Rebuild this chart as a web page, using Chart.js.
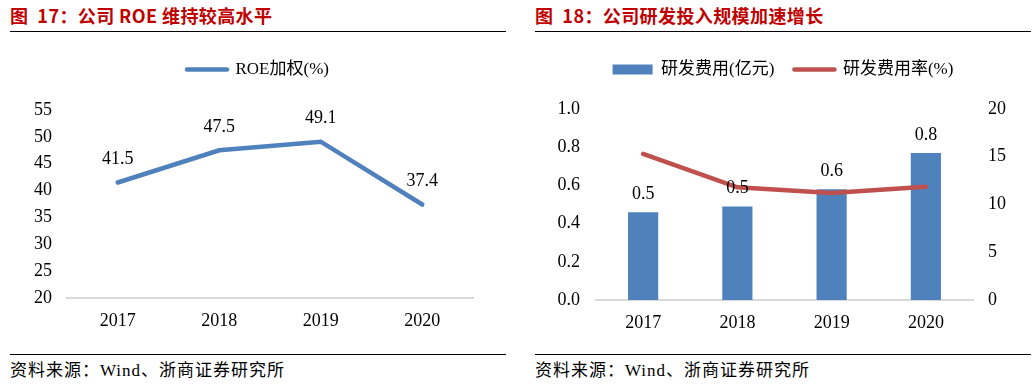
<!DOCTYPE html>
<html>
<head>
<meta charset="utf-8">
<script src="https://cdn.jsdelivr.net/npm/chart.js@4/dist/chart.umd.min.js"></script>
<style>
  body { margin: 0; background: #fff; width: 1035px; height: 387px; position: relative; overflow: hidden; }
  .panel { position: absolute; top: 0; width: 496px; height: 387px; }
  .title { position: absolute; left: 0; top: 4px; font: bold 18px "Noto Sans CJK SC", sans-serif; letter-spacing: 0.4px; color: #c00000; white-space: nowrap; line-height: 22px; }
  .rule { position: absolute; left: 0; width: 496px; height: 1px; background: #000; }
  .chartbox { position: absolute; left: 0; top: 40px; width: 496px; height: 300px; }
  .source { position: absolute; left: 0; top: 361px; font: 17px "Liberation Serif", "Noto Sans CJK SC", serif; letter-spacing: 1px; color: #000; white-space: nowrap; line-height: 20px; }
</style>
</head>
<body>
<div class="panel" style="left:10px">
  <div class="title">图&nbsp; 17：公司 ROE 维持较高水平</div>
  <div class="rule" style="top:31px"></div>
  <div class="chartbox"><canvas id="roeChart"></canvas></div>
  <div class="rule" style="top:354px"></div>
  <div class="source">资料来源：Wind、浙商证券研究所</div>
</div>
<div class="panel" style="left:535px">
  <div class="title">图&nbsp; 18：公司研发投入规模加速增长</div>
  <div class="rule" style="top:31px"></div>
  <div class="chartbox"><canvas id="rdChart"></canvas></div>
  <div class="rule" style="top:354px"></div>
  <div class="source">资料来源：Wind、浙商证券研究所</div>
</div>
<script>
const years = ['2017', '2018', '2019', '2020'];
const roe = [41.5, 47.5, 49.1, 37.4];
const rdExpense = [0.46, 0.49, 0.58, 0.77];   // 亿元
const rdRatio = [15.3, 11.8, 11.2, 11.85];     // %

const serif = '"Liberation Serif", "Noto Sans CJK SC", serif';
const blue = '#4f81bd';
const red = '#c0504d';

// 数据标签
const valueLabels = {
  id: 'valueLabels',
  afterDatasetsDraw(chart) {
    const ctx = chart.ctx;
    ctx.save();
    ctx.font = '18px ' + serif;
    ctx.fillStyle = '#000';
    ctx.textAlign = 'center';
    ctx.textBaseline = 'middle';
    chart.data.datasets.forEach((ds, i) => {
      if (!ds.showLabels) return;
      chart.getDatasetMeta(i).data.forEach((el, j) => {
        ctx.fillText(ds.data[j].toFixed(1), el.x, el.y - ds.labelOffset);
      });
    });
    ctx.restore();
  }
};

// 图例下方留白
const legendGap = gap => ({
  id: 'legendGap',
  beforeInit(chart) {
    const fit = chart.legend.fit;
    chart.legend.fit = function () {
      fit.bind(chart.legend)();
      this.height += gap;
    };
  }
});

const legendLabels = {
  usePointStyle: true,
  pointStyleWidth: 40,
  boxHeight: 10,
  padding: 20,
  color: '#000',
  font: { size: 17, family: serif },
  generateLabels(chart) {
    const items = Chart.defaults.plugins.legend.labels.generateLabels(chart);
    items.forEach((it, i) => {
      const ds = chart.data.datasets[i];
      it.pointStyle = ds.type === 'bar' ? 'rect' : 'line';
      if (ds.type !== 'bar') { it.lineCap = 'round'; it.strokeStyle = ds.borderColor; it.lineWidth = 4.5; }
    });
    return items;
  }
};

const tickFont = { size: 18, family: serif };

new Chart(document.getElementById('roeChart'), {
  type: 'line',
  data: {
    labels: years,
    datasets: [{
      type: 'line',
      label: 'ROE加权(%)',
      data: roe,
      borderColor: blue,
      backgroundColor: blue,
      borderWidth: 4.5,
      borderCapStyle: 'round',
      pointRadius: 0,
      tension: 0,
      showLabels: true,
      labelOffset: 23
    }]
  },
  options: {
    responsive: true,
    maintainAspectRatio: false,
    animation: false,
    layout: { padding: { top: 1, right: 0, bottom: 0, left: 0 } },
    plugins: {
      legend: { labels: legendLabels },
      tooltip: { enabled: false }
    },
    scales: {
      x: {
        offset: true,
        grid: { display: false, drawTicks: false },
        border: { color: '#d9d9d9', width: 2 },
        ticks: { color: '#000', font: tickFont, padding: 12 },
        afterFit: s => { s.height = 42; }
      },
      y: {
        min: 20, max: 55,
        grid: { display: false, drawTicks: false },
        border: { display: false },
        ticks: { stepSize: 5, color: '#000', font: tickFont, padding: 15 },
        afterFit: s => { s.width = 57; }
      },
      // 右侧留白
      yPad: {
        position: 'right',
        grid: { display: false, drawTicks: false },
        border: { display: false },
        ticks: { display: false },
        afterFit: s => { s.width = 33; }
      }
    }
  },
  plugins: [valueLabels, legendGap(22)]
});

new Chart(document.getElementById('rdChart'), {
  type: 'bar',
  data: {
    labels: years,
    datasets: [{
      type: 'line',
      label: '研发费用率(%)',
      data: rdRatio,
      yAxisID: 'y2',
      borderColor: red,
      backgroundColor: red,
      borderWidth: 4.5,
      borderCapStyle: 'round',
      pointRadius: 0,
      tension: 0,
      order: 0
    }, {
      type: 'bar',
      label: '研发费用(亿元)',
      data: rdExpense,
      yAxisID: 'y',
      backgroundColor: blue,
      categoryPercentage: 1,
      barPercentage: 0.32,
      showLabels: true,
      labelOffset: 18,
      order: 1
    }]
  },
  options: {
    responsive: true,
    maintainAspectRatio: false,
    animation: false,
    layout: { padding: { top: 1, right: 0, bottom: 0, left: 0 } },
    plugins: {
      legend: { labels: Object.assign({}, legendLabels, {
        sort: (a, b) => b.datasetIndex - a.datasetIndex
      }) },
      tooltip: { enabled: false }
    },
    scales: {
      x: {
        grid: { display: false, drawTicks: false },
        border: { color: '#d9d9d9', width: 2 },
        ticks: { color: '#000', font: tickFont, padding: 12 },
        afterFit: s => { s.height = 40; }
      },
      y: {
        position: 'left',
        min: 0, max: 1,
        grid: { display: false, drawTicks: false },
        border: { display: false },
        ticks: { stepSize: 0.2, color: '#000', font: tickFont, padding: 16, callback: v => v.toFixed(1) },
        afterFit: s => { s.width = 61; }
      },
      y2: {
        position: 'right',
        min: 0, max: 20,
        grid: { display: false, drawTicks: false },
        border: { display: false },
        ticks: { stepSize: 5, color: '#000', font: tickFont, padding: 15 },
        afterFit: s => { s.width = 58; }
      }
    }
  },
  plugins: [valueLabels, legendGap(21)]
});
</script>
</body>
</html>
